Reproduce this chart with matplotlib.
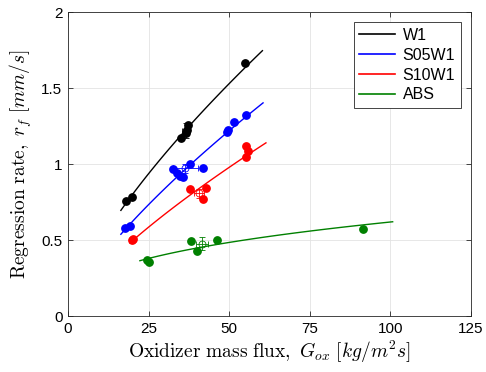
import numpy as np
import matplotlib
matplotlib.use("Agg")
import matplotlib.pyplot as plt

plt.rcParams['mathtext.fontset'] = 'cm'
plt.rcParams['font.family'] = ['Liberation Sans', 'DejaVu Sans']

# ---- data ----
series_names = ['W1', 'S05W1', 'S10W1', 'ABS']
series_colors = ['#000000', '#0000ff', '#ff0000', '#008000']

w1_G = [18.0, 19.8, 35.0, 36.6, 37.3, 36.8, 54.9]
w1_r = [0.758, 0.785, 1.171, 1.204, 1.257, 1.224, 1.662]

s05_G = [17.8, 19.2, 32.7, 33.7, 34.7, 35.8, 37.8, 42.0, 49.2, 49.5, 51.6, 55.1]
s05_r = [0.576, 0.592, 0.965, 0.943, 0.921, 0.913, 0.998, 0.972, 1.213, 1.224, 1.274, 1.322]

s10_G = [20.0, 20.3, 37.8, 42.8, 41.8, 55.2, 55.9, 55.2]
s10_r = [0.500, 0.507, 0.834, 0.840, 0.768, 1.120, 1.086, 1.044]

abs_G = [24.4, 25.2, 38.1, 39.9, 46.1, 91.6]
abs_r = [0.368, 0.357, 0.493, 0.428, 0.500, 0.570]

# fit-line ranges of G (kg/m^2 s)
fit_lo = [16.4, 16.4, 19.2, 22.3]
fit_hi = [60.3, 60.5, 61.4, 100.7]

# mean points with error bars: G, r, G_err, r_err
mean_G = [36.5, 36.4, 40.7, 41.5]
mean_r = [1.22, 0.972, 0.807, 0.474]
mean_Gerr = [1.0, 3.9, 1.5, 1.9]
mean_rerr = [0.05, 0.03, 0.03, 0.043]

x_ticks = [0, 25, 50, 75, 100, 125]
y_ticks = [0, 0.5, 1, 1.5, 2]
y_ticklabels = ['0', '0.5', '1', '1.5', '2']

# ---- figure ----
fig = plt.figure(figsize=(4.86, 3.72), dpi=100)
ax = fig.add_axes([68/486, 56/372, 403/486, 304/372])

Gs = [w1_G, s05_G, s10_G, abs_G]
rs = [w1_r, s05_r, s10_r, abs_r]

for i in range(4):
    G = np.array(Gs[i]); r = np.array(rs[i])
    c = series_colors[i]
    # power-law fit r = a G^n
    n, loga = np.polyfit(np.log(G), np.log(r), 1)
    gg = np.linspace(fit_lo[i], fit_hi[i], 100)
    ax.plot(gg, np.exp(loga) * gg**n, color=c, lw=1.0, label=series_names[i], zorder=3)
    ax.plot(G, r, 'o', color=c, ms=5.3, zorder=4)
    ax.errorbar(mean_G[i], mean_r[i], xerr=mean_Gerr[i], yerr=mean_rerr[i],
                fmt='o', mfc='none', mec=c, ecolor=c, ms=5, mew=0.6,
                elinewidth=0.6, capsize=2.5, capthick=0.6, zorder=5)

ax.set_xlim(0, 125)
ax.set_ylim(0, 2)
ax.set_xticks(x_ticks)
ax.set_yticks(y_ticks)
ax.set_yticklabels(y_ticklabels)
ax.grid(True, color='#e3e3e3', lw=0.6)
ax.set_axisbelow(True)
for s in ax.spines.values():
    s.set_color('#262626'); s.set_linewidth(0.6)
ax.tick_params(direction='in', top=True, right=True, length=3.5, width=0.6,
               colors='#262626', labelcolor='black', labelsize=11, pad=4)

ax.set_xlabel(r'$\mathrm{Oxidizer\ mass\ flux,}\ G_{ox}\ [kg/m^2s]$', fontsize=14, labelpad=2)
ax.set_ylabel(r'$\mathrm{Regression\ rate,}\ r_f\ [mm/s]$', fontsize=14, labelpad=5)

leg = ax.legend(loc='upper right', fontsize=11.5, frameon=True, fancybox=False,
                edgecolor='#262626', framealpha=1, borderaxespad=0.65,
                handlelength=2.2, handletextpad=0.5, labelspacing=0.3, borderpad=0.35)
leg.get_frame().set_linewidth(0.6)
for l in leg.get_lines():
    l.set_linewidth(1.2)

fig.savefig('out.png', dpi=100)
